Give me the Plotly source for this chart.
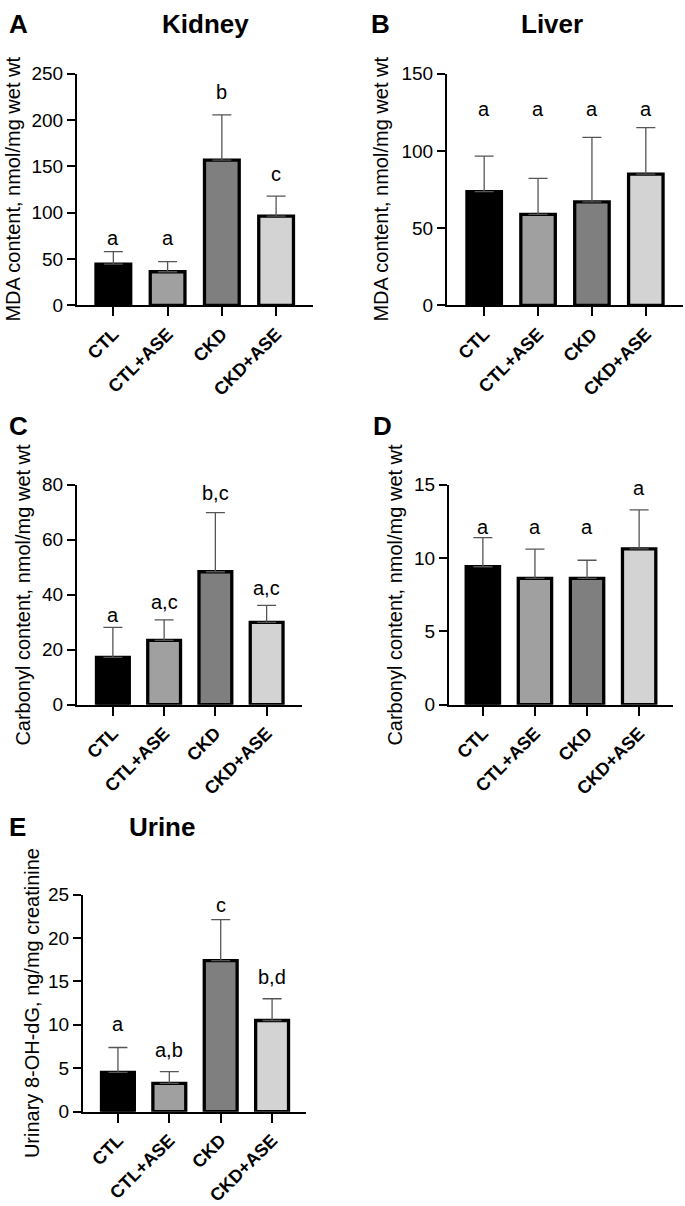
import plotly.graph_objects as go

categories = ["CTL", "CTL+ASE", "CKD", "CKD+ASE"]
bar_colors = ["#000000", "#a0a0a0", "#7f7f7f", "#d3d3d3"]

# Panel A - Kidney MDA
kidney_mda = [44.5, 36.4, 156.8, 96.4]
kidney_mda_sd = [13.5, 10.9, 48.7, 21.5]
kidney_mda_letters = ["a", "a", "b", "c"]
kidney_mda_letter_y = [73, 73, 230, 142]

# Panel B - Liver MDA
liver_mda = [73.7, 58.9, 67.0, 85.0]
liver_mda_sd = [22.9, 23.3, 41.7, 30.0]
liver_mda_letters = ["a", "a", "a", "a"]
liver_mda_letter_y = [127.3, 127.3, 127.3, 127.3]

# Panel C - Kidney carbonyl
kidney_carb = [17.2, 23.4, 48.3, 29.9]
kidney_carb_sd = [10.9, 7.4, 21.5, 6.2]
kidney_carb_letters = ["a", "a,c", "b,c", "a,c"]
kidney_carb_letter_y = [32.6, 37.4, 76.8, 42.5]

# Panel D - Liver carbonyl
liver_carb = [9.4, 8.6, 8.6, 10.62]
liver_carb_sd = [1.98, 2.0, 1.24, 2.65]
liver_carb_letters = ["a", "a", "a", "a"]
liver_carb_letter_y = [12.1, 12.1, 12.1, 14.78]

# Panel E - Urine 8-OH-dG
urine = [4.54, 3.27, 17.38, 10.5]
urine_sd = [2.85, 1.35, 4.72, 2.5]
urine_letters = ["a", "a,b", "c", "b,d"]
urine_letter_y = [10.06, 7.06, 23.76, 15.5]

W, H = 685, 1206
FONT = "Arial, Liberation Sans, sans-serif"

panels = [
    dict(vals=kidney_mda, sd=kidney_mda_sd, letters=kidney_mda_letters, ly=kidney_mda_letter_y,
         ymax=250, dtick=50, px=(77, 313), py=(65, 302), xr=(-0.67, 3.68),
         ytitle="MDA content, nmol/mg wet wt", ytx=13, tag="A", tagpos=(18, 14),
         title="Kidney", titlepos=(205, 14)),
    dict(vals=liver_mda, sd=liver_mda_sd, letters=liver_mda_letters, ly=liver_mda_letter_y,
         ymax=150, dtick=50, px=(447, 683), py=(65, 302), xr=(-0.69, 3.69),
         ytitle="MDA content, nmol/mg wet wt", ytx=381, tag="B", tagpos=(380, 14),
         title="Liver", titlepos=(552, 14)),
    dict(vals=kidney_carb, sd=kidney_carb_sd, letters=kidney_carb_letters, ly=kidney_carb_letter_y,
         ymax=80, dtick=20, px=(77, 302), py=(485, 710), xr=(-0.70, 3.69),
         ytitle="Carbonyl content, nmol/mg wet wt", ytx=23, tag="C", tagpos=(18, 425),
         title=None, titlepos=None),
    dict(vals=liver_carb, sd=liver_carb_sd, letters=liver_carb_letters, ly=liver_carb_letter_y,
         ymax=15, dtick=5, px=(449, 673), py=(485, 710), xr=(-0.65, 3.65),
         ytitle="Carbonyl content, nmol/mg wet wt", ytx=395, tag="D", tagpos=(382, 425),
         title=None, titlepos=None),
    dict(vals=urine, sd=urine_sd, letters=urine_letters, ly=urine_letter_y,
         ymax=25, dtick=5, px=(83, 306), py=(904, 1126), xr=(-0.68, 3.66),
         ytitle="Urinary 8-OH-dG, ng/mg creatinine", ytx=32, tag="E", tagpos=(17, 835),
         title="Urine", titlepos=(162, 835)),
]

fig = go.Figure()
annotations = []
layout = dict(width=W, height=H, margin=dict(l=0, r=0, t=0, b=0),
              plot_bgcolor="white", paper_bgcolor="white", showlegend=False,
              font=dict(family=FONT, color="black"))

for i, p in enumerate(panels):
    n = "" if i == 0 else str(i + 1)
    xa, ya = "x" + n, "y" + n
    fig.add_trace(go.Bar(
        x=list(range(len(categories))), y=p["vals"], xaxis=xa, yaxis=ya,
        width=0.64,
        marker=dict(color=bar_colors, line=dict(color="black", width=3.3)),
        error_y=dict(type="data", symmetric=False, array=p["sd"],
                     arrayminus=[0] * len(p["sd"]), color="#555555",
                     thickness=1.3, width=9.5),
    ))
    layout["xaxis" + n] = dict(
        domain=[p["px"][0] / W, p["px"][1] / W], anchor=ya, range=list(p["xr"]),
        tickmode="array", tickvals=list(range(len(categories))), ticktext=categories,
        tickangle=-45, ticks="outside", ticklen=9, tickwidth=2, tickcolor="black",
        showline=True, linewidth=2, linecolor="black", showgrid=False, zeroline=False,
        tickfont=dict(family=FONT, size=18, color="black", weight="bold"),
        fixedrange=True,
    )
    layout["yaxis" + n] = dict(
        domain=[1 - p["py"][1] / H, 1 - p["py"][0] / H], anchor=xa,
        range=[0, p["ymax"]], dtick=p["dtick"], tick0=0,
        ticks="outside", ticklen=8, tickwidth=2, tickcolor="black",
        showline=True, linewidth=2, linecolor="black", showgrid=False, zeroline=False,
        tickfont=dict(family=FONT, size=19, color="black"),
        fixedrange=True,
    )
    for k, (lt, yv) in enumerate(zip(p["letters"], p["ly"])):
        annotations.append(dict(x=k, y=yv, xref=xa, yref=ya, text=lt, showarrow=False,
                                xanchor="center", yanchor="middle",
                                font=dict(family=FONT, size=20, color="black")))
    annotations.append(dict(x=p["ytx"] / W, y=1 - (p["py"][0] + p["py"][1]) / 2 / H,
                            xref="paper", yref="paper", text=p["ytitle"], textangle=-90,
                            showarrow=False, xanchor="center", yanchor="middle",
                            font=dict(family=FONT, size=20, color="black")))
    annotations.append(dict(x=p["tagpos"][0] / W, y=1 - p["tagpos"][1] / H,
                            xref="paper", yref="paper", text="<b>" + p["tag"] + "</b>",
                            showarrow=False, xanchor="center", yanchor="middle",
                            font=dict(family=FONT, size=26, color="black")))
    if p["title"]:
        annotations.append(dict(x=p["titlepos"][0] / W, y=1 - p["titlepos"][1] / H,
                                xref="paper", yref="paper", text="<b>" + p["title"] + "</b>",
                                showarrow=False, xanchor="center", yanchor="middle",
                                font=dict(family=FONT, size=26, color="black")))

layout["annotations"] = annotations
fig.update_layout(**layout)
fig.write_html(
    "out.html",
    config={"displayModeBar": False, "staticPlot": True},
    post_script="document.body.style.margin='0';document.body.style.overflow='hidden';",
)
